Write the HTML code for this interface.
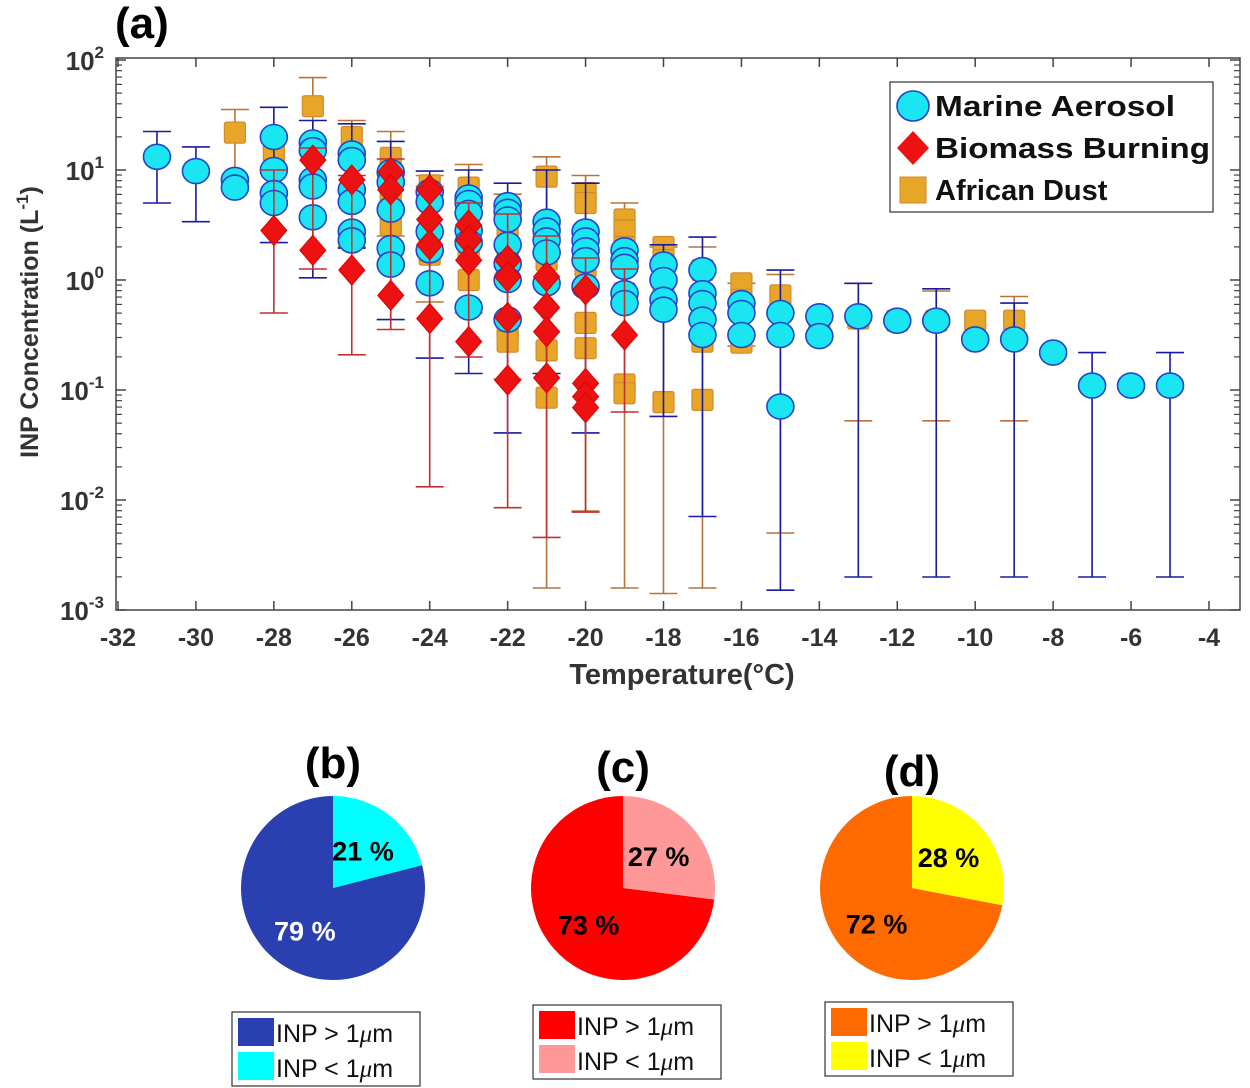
<!DOCTYPE html>
<html><head><meta charset="utf-8"><style>
body{margin:0;background:#fff;width:1250px;height:1088px;overflow:hidden;font-family:"Liberation Sans",Arial,sans-serif}
svg{position:absolute;left:0;top:0}
</style></head><body>
<svg id="chart" width="1250" height="1088"></svg>
<script>
// ---- Panel (a) data: temperature (°C) and log10 INP concentration (L^-1)
const marineT = [-31,-30,-29,-29,-28,-28,-28,-28,-27,-27,-27,-27,-27,-26,-26,-26,-26,-26,-26,-25,-25,-25,-25,-25,-24,-24,-24,-24,-24,-23,-23,-23,-23,-23,-23,-22,-22,-22,-22,-22,-22,-22,-21,-21,-21,-21,-21,-20,-20,-20,-20,-20,-19,-19,-19,-19,-19,-18,-18,-18,-18,-17,-17,-17,-17,-17,-16,-16,-16,-15,-15,-15,-14,-14,-13,-12,-11,-10,-9,-8,-7,-6,-5];
const marineLog = [1.12,0.99,0.91,0.84,1.3,1.0,0.79,0.7,1.25,1.18,0.91,0.85,0.57,1.15,1.09,0.82,0.71,0.44,0.36,0.98,0.89,0.64,0.29,0.14,0.8,0.71,0.44,0.27,-0.03,0.75,0.7,0.61,0.45,0.34,-0.25,0.68,0.62,0.55,0.32,0.15,0.0,-0.36,0.53,0.45,0.36,0.25,-0.03,0.44,0.36,0.27,0.18,-0.06,0.27,0.18,0.12,-0.12,-0.21,0.14,0.0,-0.18,-0.27,0.09,-0.12,-0.21,-0.36,-0.5,-0.21,-0.3,-0.5,-0.3,-0.5,-1.15,-0.33,-0.51,-0.33,-0.37,-0.37,-0.54,-0.54,-0.66,-0.96,-0.96,-0.96];
const marineErrT = [-31,-30,-28,-27,-26,-25,-24,-23,-22,-21,-20,-18,-17,-15,-13,-11,-9,-7,-5];
const marineErrHi = [1.35,1.21,1.57,1.45,1.42,1.26,0.99,1.0,0.88,1.0,0.88,0.32,0.39,0.09,-0.03,-0.08,-0.21,-0.66,-0.66];
const marineErrLo = [0.7,0.53,0.34,0.02,0.29,-0.36,-0.71,-0.85,-1.39,-0.85,-1.39,-1.24,-2.15,-2.82,-2.7,-2.7,-2.7,-2.7,-2.7];

const biomassT = [-28,-27,-27,-26,-26,-25,-25,-25,-24,-24,-24,-24,-23,-23,-23,-23,-22,-22,-22,-22,-21,-21,-21,-21,-20,-20,-20,-20,-19];
const biomassLog = [0.45,1.09,0.27,0.91,0.09,0.98,0.82,-0.14,0.82,0.55,0.32,-0.35,0.5,0.36,0.18,-0.56,0.18,0.03,-0.34,-0.91,0.03,-0.25,-0.47,-0.89,-0.09,-0.94,-1.06,-1.16,-0.5];
const biomassErrT = [-28,-27,-26,-25,-24,-23,-22,-21,-20,-19];
const biomassErrHi = [1.0,1.2,0.95,1.1,0.85,0.7,0.6,0.4,0.2,0.1];
const biomassErrLo = [-0.3,0.1,-0.68,-0.45,-1.88,-0.7,-2.07,-2.34,-2.11,-1.2];

const dustT = [-29,-28,-27,-26,-25,-25,-25,-24,-24,-24,-23,-23,-23,-23,-22,-22,-22,-22,-21,-21,-21,-21,-20,-20,-20,-20,-20,-19,-19,-19,-19,-19,-19,-18,-18,-18,-18,-17,-17,-17,-17,-16,-16,-16,-15,-14,-13,-12,-11,-10,-9];
const dustLog = [1.34,1.15,1.58,1.3,1.11,0.73,0.5,0.86,0.36,0.23,0.84,0.59,0.27,0.0,0.48,0.18,-0.45,-0.56,0.94,0.18,-0.64,-1.07,0.79,0.7,0.12,-0.39,-0.62,0.55,0.45,0.3,-0.12,-0.95,-1.03,0.3,0.18,-0.16,-1.11,0.09,-0.2,-0.56,-1.09,-0.03,-0.18,-0.57,-0.14,-0.37,-0.35,-0.37,-0.37,-0.37,-0.37];
const dustErrT = [-29,-27,-26,-25,-24,-23,-22,-21,-20,-19,-18,-17,-16,-15,-13,-11,-9];
const dustErrHi = [1.55,1.84,1.45,1.35,0.95,1.05,0.78,1.12,0.95,0.7,0.3,0.3,-0.03,0.05,-0.03,-0.1,-0.15];
const dustErrLo = [0.82,0.9,0.3,0.4,-0.2,-0.3,-0.9,-2.8,-2.1,-2.8,-2.85,-2.8,-0.6,-2.3,-1.28,-1.28,-1.28];

const xTicks = [-32,-30,-28,-26,-24,-22,-20,-18,-16,-14,-12,-10,-8,-6,-4];
const yTickExp = [2,1,0,-1,-2,-3];

// ---- Pies
const pieLabels = ["(b)","(c)","(d)"];
const pieSmall = [21,27,28];
const pieLarge = [79,73,72];

const NS="http://www.w3.org/2000/svg";
const svg=document.getElementById('chart');
function mk(tag,attrs,parent){const e=document.createElementNS(NS,tag);for(const k in attrs)e.setAttribute(k,attrs[k]);(parent||svg).appendChild(e);return e;}

const X0=118, XS=38.964, Y0=610, YS=110;
function xs(t){return X0+(t+32)*XS;}
function ys(l){return Y0-(l+3)*YS;}
const L=116,R=1240,T=58,B=610;

let f=mk('rect',{x:L,y:T,width:R-L,height:B-T,fill:'none',stroke:'#444','stroke-width':1.5});



xTicks.forEach(t=>{
  const x=xs(t);
  mk('line',{x1:x,y1:B,x2:x,y2:B-9,stroke:'#444','stroke-width':1.5});
  mk('line',{x1:x,y1:T,x2:x,y2:T+9,stroke:'#444','stroke-width':1.5});
  const tx=mk('text',{x:x,y:646,'text-anchor':'middle','font-size':25,'font-weight':'bold',fill:'#333'});
  tx.textContent=t;
  
  
});
yTickExp.forEach(e=>{
  const y=ys(e);
  mk('line',{x1:L,y1:y,x2:L+10,y2:y,stroke:'#444','stroke-width':1.5});
  mk('line',{x1:R,y1:y,x2:R-10,y2:y,stroke:'#444','stroke-width':1.5});
  if(e<2){for(let m=2;m<10;m++){const yy=y-Math.log10(m)*YS; mk('line',{x1:L,y1:yy,x2:L+6,y2:yy,stroke:'#444','stroke-width':1.2});mk('line',{x1:R,y1:yy,x2:R-6,y2:yy,stroke:'#444','stroke-width':1.2});}}
  const tx=mk('text',{x:104,y:y+10,'text-anchor':'end','font-size':26,'font-weight':'bold',fill:'#333'});
  
  
  const a=mk('tspan',{},tx);a.textContent='10';
  const b=mk('tspan',{dy:-12,'font-size':17},tx);b.textContent=e;
});

let xt=mk('text',{x:682,y:684,'text-anchor':'middle','font-size':29,'font-weight':'bold',fill:'#333'});
xt.textContent='Temperature(°C)';


let yt=mk('text',{x:0,y:0,'text-anchor':'middle','font-size':25,'font-weight':'bold',fill:'#333',transform:'translate(38,322) rotate(-90)'});


mk('tspan',{},yt).textContent='INP Concentration (L';
mk('tspan',{dy:-10,'font-size':17},yt).textContent='-1';
mk('tspan',{dy:10},yt).textContent=')';

let pa=mk('text',{x:115,y:38,'font-size':44,'font-weight':'bold',fill:'#000'});
pa.textContent='(a)';



function bars(Ts,His,Los,color,name){
  Ts.forEach((t,i)=>{
    const g=mk('g',{stroke:color,'stroke-width':1.6});
    
    
    const x=xs(t),y1=ys(His[i]),y2=ys(Los[i]);
    mk('line',{x1:x,y1:y1,x2:x,y2:y2},g);
    mk('line',{x1:x-14,y1:y1,x2:x+14,y2:y1},g);
    mk('line',{x1:x-14,y1:y2,x2:x+14,y2:y2},g);
  });
}
bars(dustErrT,dustErrHi,dustErrLo,'#b9733a','dust-error-bar');
dustT.forEach((t,i)=>{
  const r=mk('rect',{x:xs(t)-10.5,y:ys(dustLog[i])-10.5,width:21,height:21,rx:2,fill:'#e8a628',stroke:'#d08a2a','stroke-width':1.2});
  
  
});
bars(marineErrT,marineErrHi,marineErrLo,'#1a1aa0','marine-error-bar');
marineT.forEach((t,i)=>{
  const c=mk('ellipse',{cx:xs(t),cy:ys(marineLog[i]),rx:13.5,ry:12.5,fill:'#19e6f0',stroke:'#2244cc','stroke-width':1.6});
  
  
});
bars(biomassErrT,biomassErrHi,biomassErrLo,'#c03030','biomass-error-bar');
biomassT.forEach((t,i)=>{
  const x=xs(t),y=ys(biomassLog[i]);
  const p=mk('polygon',{points:`${x},${y-15} ${x+13},${y} ${x},${y+15} ${x-13},${y}`,fill:'#ee1111',stroke:'#dd0000','stroke-width':1});
  
  
});

const lg=mk('g',{});


mk('rect',{x:890,y:82,width:323,height:130,fill:'#fff',stroke:'#333','stroke-width':1.2},lg);
const items=[['Marine Aerosol','c'],['Biomass Burning','d'],['African Dust','s']];
items.forEach((it,i)=>{
  const y=106+i*42;
  const g=mk('g',{},lg);
  
  
  if(it[1]=='c')mk('ellipse',{cx:913,cy:y,rx:16,ry:15,fill:'#19e6f0',stroke:'#2244cc','stroke-width':1.6},g);
  if(it[1]=='d')mk('polygon',{points:`913,${y-17} 929,${y} 913,${y+17} 897,${y}`,fill:'#ee1111'},g);
  if(it[1]=='s')mk('rect',{x:900,y:y-13,width:26,height:26,fill:'#e8a628',stroke:'#d08a2a'},g);
  const tx=mk('text',{x:935,y:y+10,'font-size':29,'font-weight':'bold',fill:'#111','textLength':275,'lengthAdjust':'spacingAndGlyphs'},g);
  if(i!=0&&i!=1)tx.removeAttribute('textLength');
  if(i==0)tx.setAttribute('textLength',240);
  tx.textContent=it[0];
});

const pieCx=[333,623,912], pieCy=[888,888,888];
const pieLabY=[778,782,786];
const darkC=['#2a3fb0','#ff0000','#ff6a00'], lightC=['#00ffff','#ff9999','#ffff00'];
const legX=[232,533,825], legY=[1012,1005,1002];
pieLabels.forEach((lab,i)=>{
  const cx=pieCx[i],cy=pieCy[i],r=92;
  const tl=mk('text',{x:cx,y:pieLabY[i],'text-anchor':'middle','font-size':44,'font-weight':'bold',fill:'#000'});
  tl.textContent=lab;
  
  
  const frac=pieSmall[i]/(pieSmall[i]+pieLarge[i]);
  const a=frac*2*Math.PI;
  const ex=cx+r*Math.sin(a), ey=cy-r*Math.cos(a);
  const big=mk('path',{d:`M${cx},${cy} L${ex},${ey} A${r},${r} 0 ${a>Math.PI?0:1} 1 ${cx},${cy-r} Z`,fill:darkC[i]});
  
  
  const sm=mk('path',{d:`M${cx},${cy} L${cx},${cy-r} A${r},${r} 0 ${a>Math.PI?1:0} 1 ${ex},${ey} Z`,fill:lightC[i]});
  
  
  const am=a/2, al=a+(2*Math.PI-a)/2;
  const t1=mk('text',{x:cx+r*0.45*Math.sin(am)+r*0.05,y:cy-r*0.45*Math.cos(am)+10-r*0.05,'text-anchor':'middle','font-size':27,'font-weight':'bold',fill:'#000'});
  t1.textContent=pieSmall[i]+' %';
  
  
  const t2=mk('text',{x:cx+r*0.5*Math.sin(al),y:cy-r*0.5*Math.cos(al)+16,'text-anchor':'middle','font-size':27,'font-weight':'bold',fill:i==0?'#fff':'#000'});
  t2.textContent=pieLarge[i]+' %';
  
  
  const g=mk('g',{});
  
  
  const lx=legX[i],ly=legY[i];
  mk('rect',{x:lx,y:ly,width:188,height:74,fill:'#fff',stroke:'#333','stroke-width':1.2},g);
  mk('rect',{x:lx+6,y:ly+6,width:36,height:28,fill:darkC[i]},g);
  mk('rect',{x:lx+6,y:ly+40,width:36,height:28,fill:lightC[i]},g);
  const a1=mk('text',{x:lx+44,y:ly+30,'font-size':25,fill:'#111'},g);a1.textContent='INP > 1';
  const m1=mk('tspan',{'font-style':'italic','font-family':'"Liberation Serif",serif'},a1);m1.textContent='μ';
  mk('tspan',{},a1).textContent='m';
  const a2=mk('text',{x:lx+44,y:ly+65,'font-size':25,fill:'#111'},g);a2.textContent='INP < 1';
  const m2=mk('tspan',{'font-style':'italic','font-family':'"Liberation Serif",serif'},a2);m2.textContent='μ';
  mk('tspan',{},a2).textContent='m';
});
</script>
</body></html>
